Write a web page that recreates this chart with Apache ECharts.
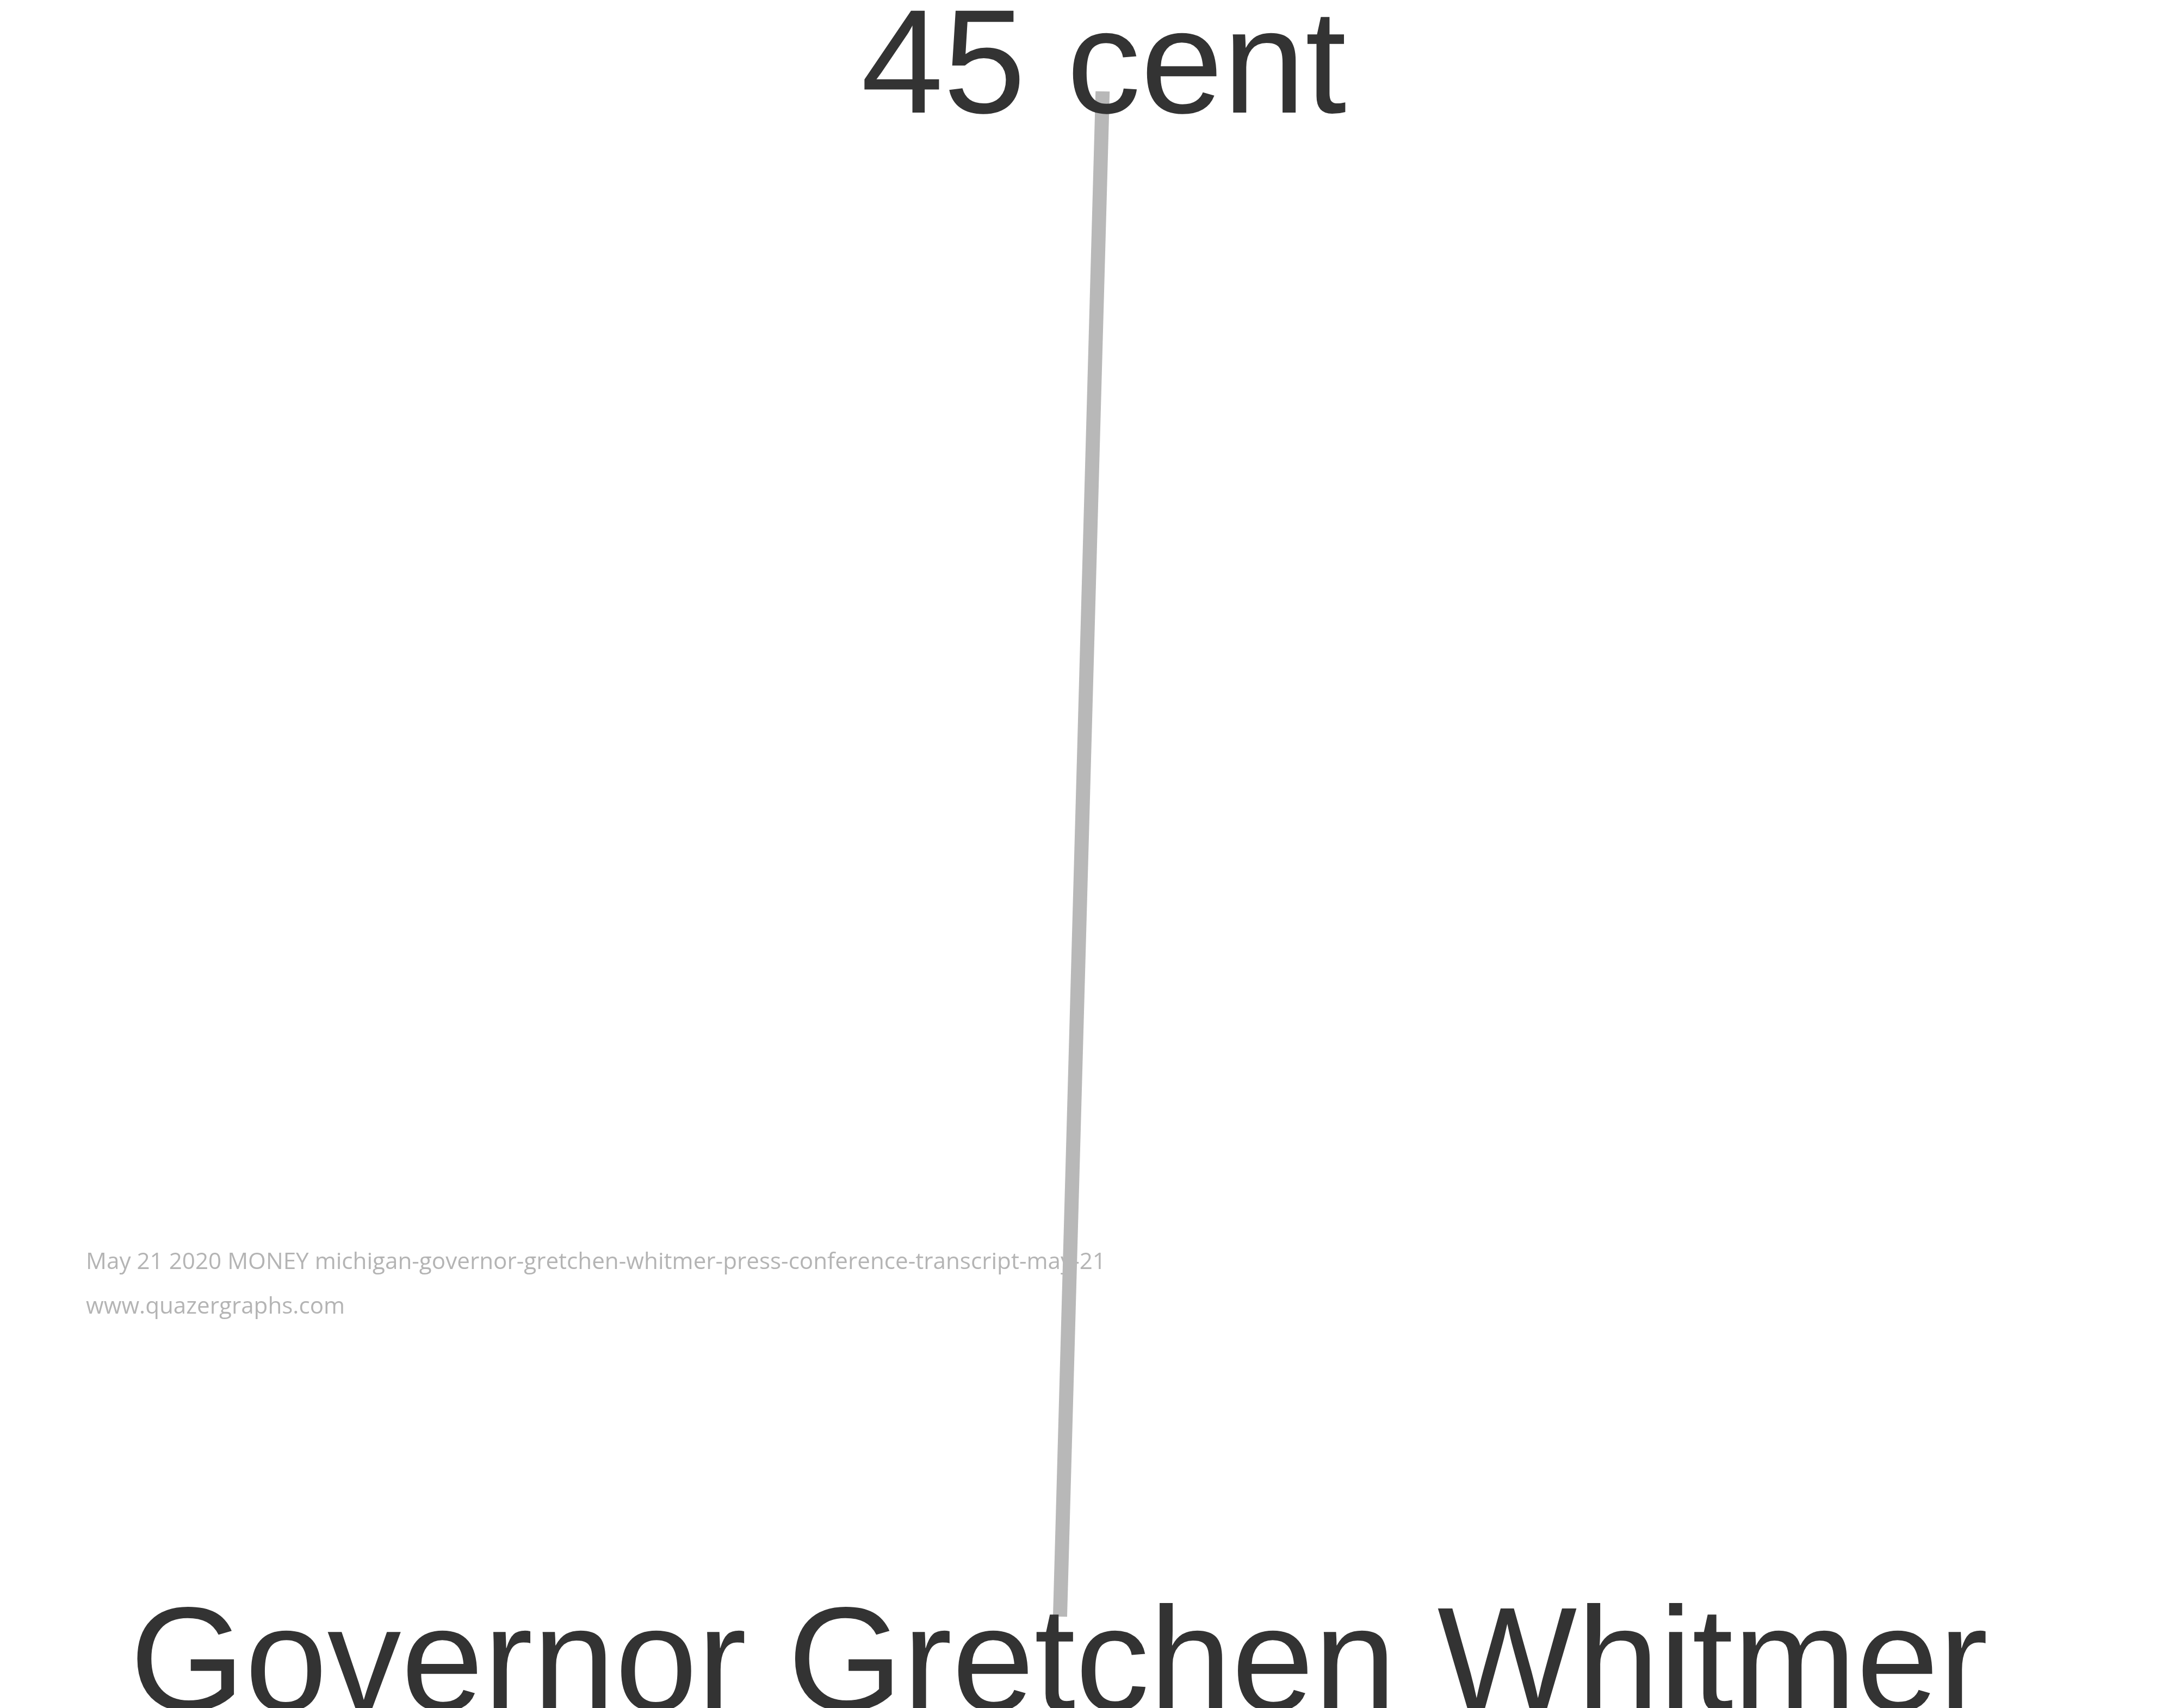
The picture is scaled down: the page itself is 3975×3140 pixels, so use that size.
<!DOCTYPE html>
<html>
<head>
<meta charset="utf-8">
<script src="https://cdn.jsdelivr.net/npm/echarts@6/dist/echarts.min.js"></script>
<style>
html,body{margin:0;padding:0;background:#ffffff;}
#chart{width:3975px;height:3140px;}
</style>
</head>
<body>
<div id="chart"></div>
<script>
// Node names and their positions (percent of the canvas)
var nodeNames = ['45 cent', 'Governor Gretchen Whitmer'];
var nodeX = [51.0, 49.03];
var nodeY = [5.35, 94.65];
// Links between nodes (index pairs)
var linkSource = [0];
var linkTarget = [1];
// Watermark texts
var sourceText = 'May 21 2020 MONEY michigan-governor-gretchen-whitmer-press-conference-transcript-may-21';
var siteText = 'www.quazergraphs.com';

var labelOffsets = [[2, -36], [-2, 97]];

var nodes = nodeNames.map(function (n, i) {
  return {
    name: n,
    value: [nodeX[i], nodeY[i]],
    label: { offset: labelOffsets[i] }
  };
});
var links = linkSource.map(function (s, i) {
  return { source: s, target: linkTarget[i] };
});

var chart = echarts.init(document.getElementById('chart'), null, { renderer: 'canvas' });
chart.setOption({
  backgroundColor: '#ffffff',
  animation: false,
  grid: { left: 0, right: 0, top: 0, bottom: 0 },
  xAxis: { type: 'value', min: 0, max: 100, show: false },
  yAxis: { type: 'value', min: 0, max: 100, inverse: true, show: false },
  graphic: [
    {
      type: 'text', left: 158, top: 2300, z: 0,
      style: { text: sourceText, fill: '#b4b4b4', font: '42.2px "Open Sans"' }
    },
    {
      type: 'text', left: 158, top: 2382, z: 0,
      style: { text: siteText, fill: '#b4b4b4', font: '42.2px "Open Sans"' }
    }
  ],
  series: [{
    type: 'graph',
    coordinateSystem: 'cartesian2d',
    layout: 'none',
    z: 5,
    symbol: 'circle',
    symbolSize: 1,
    itemStyle: { color: 'rgba(0,0,0,0)' },
    data: nodes,
    links: links,
    lineStyle: { color: '#b8b8b8', width: 26, opacity: 1, curveness: 0 },
    label: {
      show: true,
      position: 'inside',
      formatter: '{b}',
      color: '#333333',
      fontFamily: '"Liberation Sans", Arial, sans-serif',
      fontSize: 272,
      lineHeight: 272
    },
    emphasis: { disabled: true }
  }]
});
</script>
</body>
</html>
